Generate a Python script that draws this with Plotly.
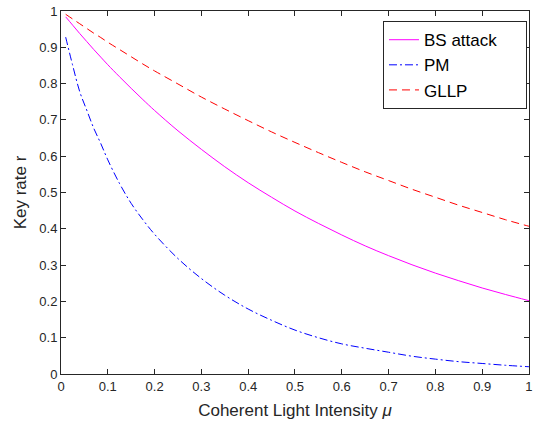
import plotly.graph_objects as go

mu = [0.01, 0.025, 0.04, 0.055, 0.07, 0.085, 0.1, 0.125, 0.15, 0.175, 0.2,
      0.25, 0.3, 0.35, 0.4, 0.45, 0.5, 0.55, 0.6, 0.65, 0.7, 0.75, 0.8,
      0.85, 0.9, 0.95, 1.0]
bs_attack = [0.984, 0.961, 0.938, 0.916, 0.894, 0.873, 0.852, 0.819, 0.787,
             0.756, 0.726, 0.670, 0.619, 0.571, 0.527, 0.487, 0.449, 0.415,
             0.383, 0.353, 0.326, 0.301, 0.278, 0.257, 0.237, 0.219, 0.202]
pm = [0.928, 0.850, 0.778, 0.727, 0.677, 0.635, 0.590, 0.525, 0.470, 0.425,
      0.385, 0.318, 0.263, 0.217, 0.179, 0.148, 0.121, 0.100, 0.083, 0.071,
      0.060, 0.049, 0.041, 0.034, 0.029, 0.024, 0.020]
gllp = [0.991, 0.978, 0.965, 0.952, 0.939, 0.927, 0.914, 0.894, 0.874,
        0.854, 0.835, 0.799, 0.763, 0.730, 0.698, 0.667, 0.638, 0.610,
        0.583, 0.557, 0.533, 0.509, 0.487, 0.465, 0.445, 0.425, 0.407]

series_names = ["BS attack", "PM", "GLLP"]

ticks = [0, 0.1, 0.2, 0.3, 0.4, 0.5, 0.6, 0.7, 0.8, 0.9, 1]
tick_text = ["0", "0.1", "0.2", "0.3", "0.4", "0.5", "0.6", "0.7", "0.8", "0.9", "1"]

FONT = "Liberation Sans, Arial, sans-serif"
PAD = "\u00a0" * 5  # extra room on the right of the legend box

fig = go.Figure()
fig.add_trace(go.Scatter(x=mu, y=bs_attack, mode="lines", name=series_names[0] + PAD,
                         line=dict(color="#FF00FF", width=1, shape="spline")))
fig.add_trace(go.Scatter(x=mu, y=pm, mode="lines", name=series_names[1],
                         line=dict(color="#0000FF", width=1, shape="spline",
                                   dash="8px,3px,2px,3px")))
fig.add_trace(go.Scatter(x=mu, y=gllp, mode="lines", name=series_names[2],
                         line=dict(color="#FF0000", width=1, shape="spline",
                                   dash="8px,5px")))

axis_common = dict(
    range=[0, 1.0001], showgrid=False, zeroline=False, showline=True,
    linecolor="#262626", linewidth=1, mirror="ticks", ticks="inside",
    ticklen=5, tickcolor="#262626", tickwidth=1,
    tickvals=ticks, ticktext=tick_text, ticklabeloverflow="allow",
    tickfont=dict(family=FONT, size=13, color="#262626"),
)

fig.update_layout(
    width=542, height=428,
    margin=dict(l=61, r=13, t=4, b=54),
    paper_bgcolor="white", plot_bgcolor="white",
    font=dict(family=FONT, size=13, color="#262626"),
    xaxis=dict(**axis_common,
               title=dict(text="Coherent Light Intensity <i>μ</i>",
                          font=dict(family=FONT, size=17, color="#262626"),
                          standoff=11)),
    yaxis=dict(**axis_common,
               title=dict(text="Key rate r",
                          font=dict(family=FONT, size=17, color="#262626"),
                          standoff=8)),
    legend=dict(x=0.9957, y=0.972, xanchor="right", yanchor="top",
                bgcolor="white", bordercolor="#262626", borderwidth=1,
                font=dict(family=FONT, size=17, color="#000000"),
                tracegroupgap=0),
    showlegend=True,
)

fig.write_html("out.html",
               config={"displayModeBar": False},
               post_script="document.body.style.margin='0';document.body.style.overflow='hidden';")
